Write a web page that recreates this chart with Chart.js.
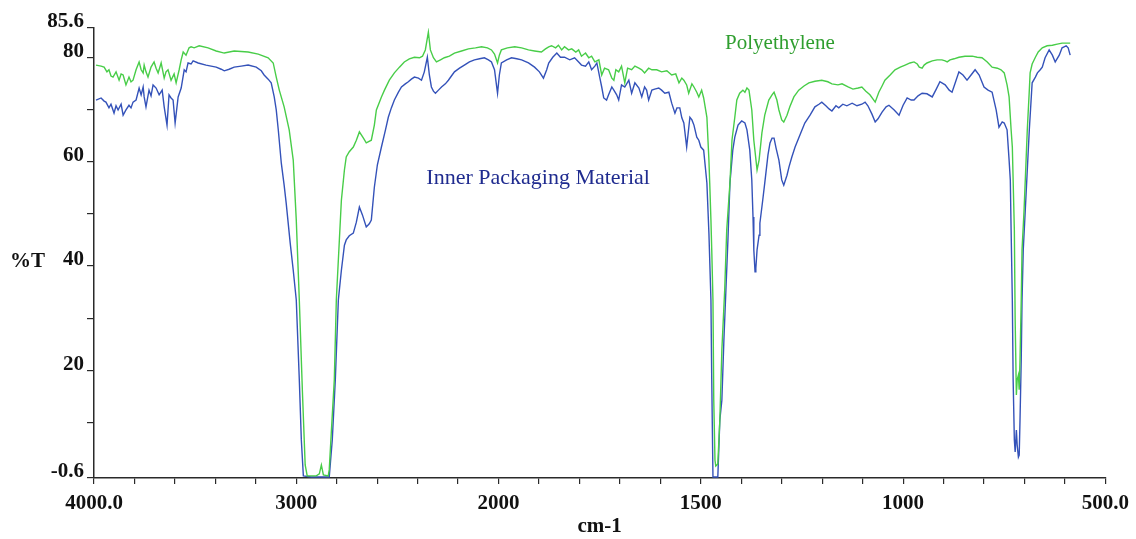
<!DOCTYPE html>
<html>
<head>
<meta charset="utf-8">
<script src="https://cdn.jsdelivr.net/npm/chart.js@4.4.1/dist/chart.umd.min.js"></script>
<style>
  html, body { margin: 0; padding: 0; background: #ffffff; }
  #wrap { width: 1136px; height: 539px; position: relative; }
  canvas { display: block; }
</style>
</head>
<body>
<div id="wrap"><canvas id="c" width="1136" height="539"></canvas></div>
<script>
// ---------- Data (wavenumber cm-1, %T) ----------
const polyWn = [3990,3965,3950,3936,3926,3916,3906,3891,3876,3866,3856,3842,3827,3817,3807,3792,3777,3767,3757,3752,3743,3733,3718,3703,3693,3683,3668,3653,3644,3634,3619,3604,3594,3579,3569,3559,3545,3530,3520,3505,3480,3436,3396,3356,3307,3238,3188,3139,3114,3099,3084,3060,3035,3015,3000,2985,2970,2956,2946,2901,2886,2876,2866,2842,2837,2827,2812,2802,2787,2777,2762,2753,2738,2718,2703,2688,2668,2654,2629,2614,2604,2579,2564,2540,2515,2490,2466,2441,2416,2391,2376,2362,2347,2337,2322,2307,2287,2268,2243,2218,2183,2149,2114,2084,2055,2035,2020,2005,1998,1993,1978,1960,1943,1926,1911,1894,1884,1876,1869,1859,1852,1844,1837,1827,1819,1809,1802,1795,1785,1777,1770,1762,1752,1745,1738,1728,1720,1715,1710,1703,1696,1688,1681,1671,1663,1653,1646,1639,1629,1621,1609,1597,1584,1572,1562,1554,1547,1542,1535,1530,1522,1517,1510,1505,1498,1493,1485,1480,1478,1475,1473,1470,1468,1465,1463,1458,1453,1448,1441,1436,1428,1423,1416,1411,1404,1396,1391,1386,1381,1374,1369,1361,1356,1349,1342,1332,1324,1319,1312,1307,1300,1295,1287,1280,1270,1258,1245,1233,1218,1201,1186,1176,1161,1151,1136,1124,1111,1102,1092,1082,1069,1060,1052,1045,1032,1020,1007,995,983,973,965,960,953,948,941,928,916,904,896,891,884,874,862,847,829,817,805,792,780,767,758,750,743,738,733,730,728,725,723,720,718,715,713,711,708,706,701,696,693,688,686,681,673,666,656,644,631,619,607,594,587];
const polyT = [78.5,78.3,78.1,77.2,77.6,76.4,76.2,77.2,75.6,76.8,76.6,74.7,76.2,75.3,75.6,77.6,79.1,77.6,77.0,78.5,77.2,76.2,78.1,79.1,77.9,77.0,78.9,76.0,77.2,77.6,75.6,76.8,75.1,77.6,79.5,81.0,80.4,81.8,82.0,81.8,82.2,81.8,81.2,80.8,81.2,81.0,80.6,79.9,78.9,76.2,73.7,70.5,66.1,60.3,48.8,33.5,16.3,1.9,-0.2,-0.2,0.2,1.9,0.0,-0.2,1.0,8.0,18.2,33.5,45.0,52.6,58.4,60.9,61.9,62.8,64.1,65.7,64.5,63.6,64.1,67.0,69.9,72.4,73.7,75.6,77.0,78.1,79.1,79.7,80.0,79.9,80.2,81.4,84.8,81.4,79.9,79.1,79.5,79.9,80.2,80.8,81.2,81.6,81.8,82.0,81.8,81.4,80.6,78.9,80.4,81.4,81.8,82.0,81.8,81.4,81.2,81.0,81.6,82.0,82.2,81.8,82.3,81.4,82.0,81.4,81.6,81.0,81.4,80.2,80.8,79.9,80.2,79.1,79.5,76.6,77.9,77.6,76.0,75.6,77.6,77.2,78.3,75.1,77.9,77.6,78.3,77.9,77.6,77.0,77.9,77.6,77.6,77.2,77.4,76.6,76.8,75.1,76.0,75.6,74.7,73.1,74.9,74.3,73.3,72.4,73.7,72.2,68.5,60.3,55.9,48.8,43.1,33.5,14.3,2.8,1.7,2.1,10.5,23.9,35.4,46.9,55.9,64.1,68.5,71.8,73.1,73.7,73.3,74.1,73.7,69.9,64.1,58.4,60.3,65.5,68.9,71.8,72.8,73.3,71.8,69.9,68.0,67.6,68.9,70.5,72.4,73.7,74.5,75.1,75.4,75.6,75.3,74.9,74.7,74.9,74.3,73.9,74.1,74.3,73.5,72.8,71.4,73.3,74.5,75.6,76.6,77.6,78.1,78.5,78.9,79.1,78.7,78.1,77.9,78.5,78.9,79.3,79.5,79.5,79.3,79.1,79.5,79.7,80.0,80.2,80.2,80.0,79.9,79.1,78.1,77.9,77.6,77.0,74.7,72.4,66.1,62.8,56.5,46.9,29.7,15.3,18.2,19.1,16.3,22.0,33.5,43.1,50.7,60.3,66.1,73.7,77.0,78.7,80.0,81.0,81.8,82.2,82.3,82.5,82.7,82.7,82.7];

const innerWn = [3990,3965,3950,3941,3926,3916,3901,3891,3881,3866,3856,3842,3827,3817,3807,3792,3777,3767,3757,3752,3743,3728,3718,3708,3693,3678,3663,3653,3639,3629,3619,3609,3599,3584,3569,3554,3545,3535,3520,3510,3485,3446,3421,3396,3371,3356,3332,3307,3272,3238,3198,3173,3159,3139,3124,3109,3099,3089,3074,3060,3050,3030,3015,3000,2985,2975,2965,2926,2876,2837,2822,2807,2792,2777,2762,2753,2738,2718,2703,2688,2673,2654,2639,2629,2614,2599,2579,2559,2545,2530,2515,2495,2480,2461,2446,2431,2416,2396,2381,2367,2352,2342,2332,2322,2312,2297,2282,2263,2248,2233,2218,2193,2169,2144,2119,2094,2070,2050,2035,2020,2005,1998,1993,1980,1968,1955,1943,1926,1911,1899,1889,1881,1876,1866,1856,1847,1837,1824,1812,1802,1795,1785,1777,1770,1762,1757,1750,1745,1740,1733,1728,1720,1715,1708,1703,1696,1688,1678,1671,1663,1653,1646,1639,1634,1629,1621,1614,1604,1597,1589,1579,1572,1564,1559,1552,1547,1542,1535,1527,1522,1517,1510,1505,1500,1493,1485,1480,1475,1473,1470,1458,1453,1448,1443,1438,1433,1428,1421,1416,1408,1399,1391,1386,1379,1374,1371,1369,1366,1364,1361,1356,1354,1347,1342,1334,1329,1324,1319,1314,1307,1300,1295,1287,1282,1275,1267,1255,1243,1230,1218,1208,1201,1191,1183,1176,1166,1159,1149,1139,1126,1114,1102,1094,1087,1077,1069,1062,1052,1042,1035,1022,1010,1000,990,980,973,963,953,941,928,918,909,896,886,879,869,862,852,842,832,822,812,800,790,780,770,763,755,750,743,738,735,733,730,728,725,723,720,718,715,713,711,708,706,703,698,693,688,681,673,668,661,656,649,639,631,624,614,607,602,597,592,587];
const innerT = [71.8,72.2,71.6,71.4,70.3,71.0,69.3,70.7,69.9,71.0,68.9,69.9,70.8,70.3,71.4,71.8,74.1,72.8,74.3,72.4,70.5,73.7,72.6,74.7,74.1,72.8,73.7,70.5,67.0,72.8,72.2,71.8,67.4,72.4,74.1,77.6,77.2,78.9,78.7,79.3,78.9,78.5,78.3,78.1,77.7,77.4,77.7,78.1,78.3,78.5,78.1,77.4,76.6,75.8,75.1,72.4,69.9,66.1,59.7,55.5,52.1,44.4,39.2,33.5,18.2,6.7,-0.2,-0.4,-0.4,-0.4,6.7,18.2,33.5,39.2,44.0,45.0,45.8,46.3,48.4,51.3,49.8,47.5,48.1,48.8,55.1,59.4,62.8,66.1,68.5,70.3,71.8,73.3,74.3,74.9,75.3,75.8,76.2,76.0,75.6,77.2,80.0,76.6,74.3,73.5,73.1,73.7,74.3,74.9,75.6,76.4,77.2,77.9,78.5,79.1,79.5,79.7,79.9,79.5,79.1,77.6,73.1,76.6,78.9,79.5,79.9,79.7,79.5,78.9,78.1,77.2,76.0,77.6,78.9,80.0,80.8,80.0,80.0,79.5,79.9,79.1,78.5,78.3,79.1,77.6,78.3,78.9,76.2,74.3,72.2,71.8,72.8,74.3,73.7,72.8,71.8,74.7,74.3,75.6,73.1,75.1,74.1,72.4,74.3,73.7,71.8,73.7,73.9,74.1,73.7,73.1,73.3,71.2,69.3,70.3,70.3,68.4,67.4,62.8,68.5,68.0,67.0,64.7,64.1,62.8,62.2,55.9,46.3,33.5,18.2,-0.4,-0.4,10.5,14.3,25.8,35.4,45.0,55.9,62.2,64.7,67.0,67.8,67.4,66.1,62.2,56.5,49.4,43.1,38.9,39.6,43.1,45.9,48.2,52.6,55.9,61.3,63.6,64.5,64.5,62.6,60.3,56.5,55.5,57.4,59.0,60.9,62.8,65.1,67.4,68.9,70.5,71.0,71.4,70.7,70.1,69.7,70.7,70.3,71.0,70.7,71.2,70.7,71.0,71.4,70.7,69.1,67.6,68.2,69.5,70.5,70.8,69.9,68.9,70.8,72.2,71.8,71.8,72.6,73.1,73.0,72.4,73.9,75.3,74.7,73.7,73.3,75.6,77.2,76.6,75.6,76.6,77.6,76.6,74.3,73.7,73.3,69.9,66.6,67.6,67.4,66.1,60.3,56.5,46.9,33.5,18.2,6.7,4.4,8.6,5.7,3.4,3.8,10.5,22.0,33.5,43.1,50.7,58.4,66.1,75.1,76.2,77.0,77.6,78.1,79.9,81.4,80.4,79.1,80.4,81.8,82.0,82.2,81.8,80.4];

// ---------- Axis definitions ----------
const yMin = -0.6, yMax = 85.6;
const yTickValues = [-0.6, 10, 20, 30, 40, 50, 60, 70, 80, 85.6];
const yTickLabels = ['-0.6', '', '20', '', '40', '', '60', '', '80', '85.6'];
const xTickValues = [4000, 3000, 2000, 1500, 1000, 500];
const xTickLabels = ['4000.0', '3000', '2000', '1500', '1000', '500.0'];
const seriesNames = ['Polyethylene', 'Inner Packaging Material'];
const axisTitles = { x: 'cm-1', y: '%T' };

// IR-style axis: 4000-2000 compressed, below 2000 expanded 2x
function toAxis(wn) { return wn >= 2000 ? 4000 - wn : 2000 + 2 * (2000 - wn); }
function fromAxis(d) { return d <= 2000 ? 4000 - d : 2000 - (d - 2000) / 2; }

const minorTickWn = [];
for (let w = 4000; w >= 2000; w -= 200) minorTickWn.push(w);
for (let w = 1900; w >= 500; w -= 100) minorTickWn.push(w);

const polyData = polyWn.map((w, i) => ({ x: toAxis(w), y: polyT[i] }));
const innerData = innerWn.map((w, i) => ({ x: toAxis(w), y: innerT[i] }));

const FONT = '"Liberation Serif", "Times New Roman", serif';
const AXIS_COLOR = '#2a2a2a';

const textPlugin = {
  id: 'irTexts',
  afterDraw(chart) {
    const ctx = chart.ctx;
    const xs = chart.scales.x, ys = chart.scales.y;
    ctx.save();
    ctx.textBaseline = 'middle';
    ctx.textAlign = 'left';
    ctx.font = '21px ' + FONT;
    ctx.fillStyle = '#2f9e2f';
    ctx.fillText(seriesNames[0], xs.getPixelForValue(toAxis(1440)), ys.getPixelForValue(82.6));
    ctx.font = '22px ' + FONT;
    ctx.fillStyle = '#1f2b8f';
    ctx.fillText(seriesNames[1], xs.getPixelForValue(toAxis(2357)), ys.getPixelForValue(56.8));
    ctx.fillStyle = '#111';
    ctx.font = 'bold 21px ' + FONT;
    ctx.textAlign = 'left';
    ctx.fillText(axisTitles.y, 10, ys.getPixelForValue(40) - 4);
    ctx.textAlign = 'center';
    ctx.fillText(axisTitles.x, (chart.chartArea.left + chart.chartArea.right) / 2, 527);
    ctx.restore();
  }
};

new Chart(document.getElementById('c'), {
  type: 'line',
  data: {
    datasets: [
      { label: seriesNames[0], data: polyData, borderColor: 'rgb(72,205,72)', borderWidth: 1.4, pointRadius: 0, tension: 0, fill: false },
      { label: seriesNames[1], data: innerData, borderColor: 'rgb(52,82,185)', borderWidth: 1.4, pointRadius: 0, tension: 0, fill: false }
    ]
  },
  options: {
    responsive: false,
    animation: false,
    devicePixelRatio: 1,
    layout: { padding: { top: 28, right: 28, bottom: 0, left: 0 } },
    plugins: { legend: { display: false }, tooltip: { enabled: false }, title: { display: false } },
    scales: {
      x: {
        type: 'linear',
        min: 0, max: 5000,
        afterFit(scale) { scale.height = 61; },
        afterBuildTicks(scale) { scale.ticks = minorTickWn.map(w => ({ value: toAxis(w) })); },
        grid: { drawOnChartArea: false, drawTicks: true, tickLength: 6, color: AXIS_COLOR, lineWidth: 1.2 },
        border: { display: true, color: AXIS_COLOR, width: 1.5 },
        ticks: {
          autoSkip: false, maxRotation: 0, padding: 7, color: '#111',
          font: { family: FONT, size: 21, weight: 'bold' },
          callback(v) {
            const w = fromAxis(v);
            const i = xTickValues.findIndex(t => Math.abs(t - w) < 0.5);
            return i >= 0 ? xTickLabels[i] : '';
          }
        }
      },
      y: {
        type: 'linear',
        min: yMin, max: yMax,
        afterFit(scale) { scale.width = 94; },
        afterBuildTicks(scale) { scale.ticks = yTickValues.map(v => ({ value: v })); },
        grid: { drawOnChartArea: false, drawTicks: true, tickLength: 7, color: AXIS_COLOR, lineWidth: 1.2 },
        border: { display: true, color: AXIS_COLOR, width: 1.5 },
        ticks: {
          autoSkip: false, padding: 3, color: '#111', labelOffset: -6,
          font: { family: FONT, size: 21, weight: 'bold' },
          callback(v) {
            const i = yTickValues.findIndex(t => Math.abs(t - v) < 1e-6);
            return i >= 0 ? yTickLabels[i] : '';
          }
        }
      }
    }
  },
  plugins: [textPlugin]
});
</script>
</body>
</html>
